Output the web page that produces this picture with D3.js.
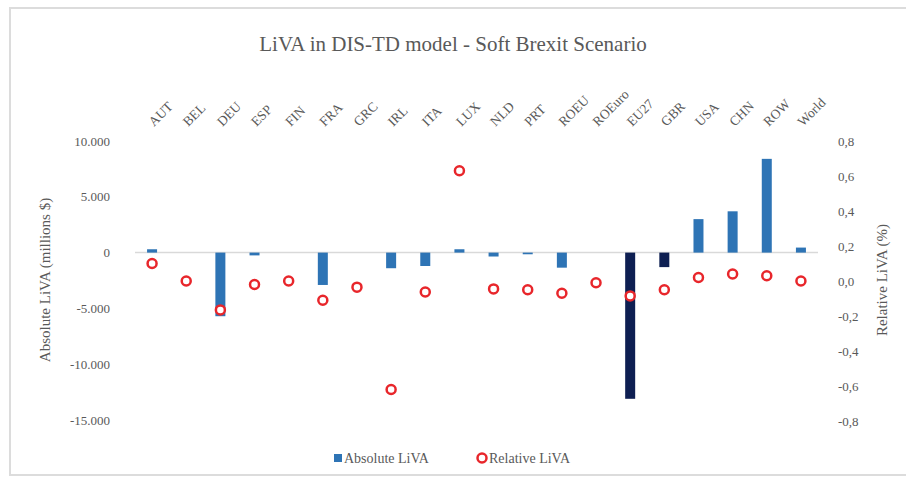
<!DOCTYPE html>
<meta charset="utf-8">
<style>
  body { margin: 0; background: #fff; }
  text { font-family: "Liberation Serif", "DejaVu Serif", serif; fill: #595959; }
</style>
<svg width="906" height="481"></svg>
<script src="https://cdn.jsdelivr.net/npm/d3@7"></script>
<script>

    // regions along the top
    var regions = ['AUT', 'BEL', 'DEU', 'ESP', 'FIN', 'FRA', 'GRC', 'IRL', 'ITA', 'LUX',
        'NLD', 'PRT', 'ROEU', 'ROEuro', 'EU27', 'GBR', 'USA', 'CHN', 'ROW', 'World']

    // Absolute LiVA, millions $
    var absoluteLiva = [300, 0, -5700, -250, 0, -2900, 0, -1400, -1200, 300,
        -350, -150, -1350, 0, -13100, -1300, 3000, 3700, 8400, 450]

    // Relative LiVA, %
    var relativeLiva = [0.10, 0.00, -0.165, -0.02, 0.00, -0.11, -0.035, -0.62, -0.063, 0.63,
        -0.045, -0.05, -0.07, -0.01, -0.085, -0.05, 0.02, 0.04, 0.03, 0.00]

    // EU27 and GBR are drawn dark
    var darkBars = ['EU27', 'GBR']

    var leftTicks = [10000, 5000, 0, -5000, -10000, -15000]
    var rightTicks = [0.8, 0.6, 0.4, 0.2, 0.0, -0.2, -0.4, -0.6, -0.8]

    var svg = d3.select('svg')

    // frame
    svg.append('rect')
        .attr('x', 10).attr('y', 8)
        .attr('width', 910).attr('height', 467)
        .attr('fill', 'none')
        .attr('stroke', '#dcdcdc')
        .attr('stroke-width', 2)

    var x = d3.scaleBand().domain(regions).range([135, 818])
    var yLeft = d3.scaleLinear().domain([-15000, 10000]).range([420, 141])
    var yRight = d3.scaleLinear().domain([-0.8, 0.8]).range([421, 141])

    svg.append('text')
        .attr('x', 453).attr('y', 51)
        .attr('text-anchor', 'middle')
        .attr('font-size', 21)
        .text('LiVA in DIS-TD model - Soft Brexit Scenario')

    function leftFmt(d) {
        var s = d3.format(',')(Math.abs(d)).replace(/,/g, '.')
        return d < 0 ? '-' + s : s
    }
    function rightFmt(d) {
        var s = Math.abs(d).toFixed(1).replace('.', ',')
        return d < 0 ? '-' + s : s
    }

    // left axis
    var leftAxis = svg.append('g')
        .attr('transform', 'translate(110,0)')
        .call(d3.axisLeft(yLeft).tickValues(leftTicks).tickSize(0).tickPadding(0).tickFormat(leftFmt))
    leftAxis.select('.domain').remove()
    leftAxis.selectAll('text')
        .attr('font-size', 13)
        .attr('font-family', '"Liberation Serif", serif')
        .attr('fill', '#595959')

    // right axis
    var rightAxis = svg.append('g')
        .attr('transform', 'translate(838,0)')
        .call(d3.axisRight(yRight).tickValues(rightTicks).tickSize(0).tickPadding(0).tickFormat(rightFmt))
    rightAxis.select('.domain').remove()
    rightAxis.selectAll('text')
        .attr('font-size', 13)
        .attr('font-family', '"Liberation Serif", serif')
        .attr('fill', '#595959')

    svg.append('text')
        .attr('transform', 'translate(50,280) rotate(-90)')
        .attr('text-anchor', 'middle')
        .attr('font-size', 15)
        .text('Absolute LiVA (millions $)')

    svg.append('text')
        .attr('transform', 'translate(887,280) rotate(-90)')
        .attr('text-anchor', 'middle')
        .attr('font-size', 15)
        .text('Relative LiVA (%)')

    // category labels on top
    svg.append('g')
        .selectAll('text')
        .data(regions)
        .enter().append('text')
        .attr('transform', function (d) {
            return 'translate(' + (x(d) + x.bandwidth() / 2 + 2) + ',127) rotate(-45)'
        })
        .attr('font-size', 13.5)
        .text(function (d) { return d })

    // zero line
    svg.append('line')
        .attr('x1', 135).attr('x2', 818)
        .attr('y1', yLeft(0)).attr('y2', yLeft(0))
        .attr('stroke', '#d9d9d9')
        .attr('stroke-width', 1.5)

    var barW = 10
    svg.append('g')
        .selectAll('rect')
        .data(regions)
        .enter().append('rect')
        .attr('x', function (d) { return x(d) + x.bandwidth() / 2 - barW / 2 })
        .attr('y', function (d, i) { return yLeft(Math.max(0, absoluteLiva[i])) })
        .attr('width', barW)
        .attr('height', function (d, i) { return Math.abs(yLeft(absoluteLiva[i]) - yLeft(0)) })
        .attr('fill', function (d) { return darkBars.indexOf(d) > -1 ? '#0e1f52' : '#2e74b5' })

    svg.append('g')
        .selectAll('circle')
        .data(regions)
        .enter().append('circle')
        .attr('cx', function (d) { return x(d) + x.bandwidth() / 2 })
        .attr('cy', function (d, i) { return yRight(relativeLiva[i]) })
        .attr('r', 4.5)
        .attr('fill', 'white')
        .attr('stroke', '#e8262b')
        .attr('stroke-width', 2.5)

    // legend
    var legend = svg.append('g')
    legend.append('rect')
        .attr('x', 334).attr('y', 454).attr('width', 8).attr('height', 8)
        .attr('fill', '#2e74b5')
    legend.append('text')
        .attr('x', 344).attr('y', 463)
        .attr('font-size', 14)
        .text('Absolute LiVA')
    legend.append('circle')
        .attr('cx', 482).attr('cy', 458).attr('r', 4.5)
        .attr('fill', 'white')
        .attr('stroke', '#e8262b')
        .attr('stroke-width', 2.5)
    legend.append('text')
        .attr('x', 489).attr('y', 463)
        .attr('font-size', 14)
        .text('Relative LiVA')

</script>
